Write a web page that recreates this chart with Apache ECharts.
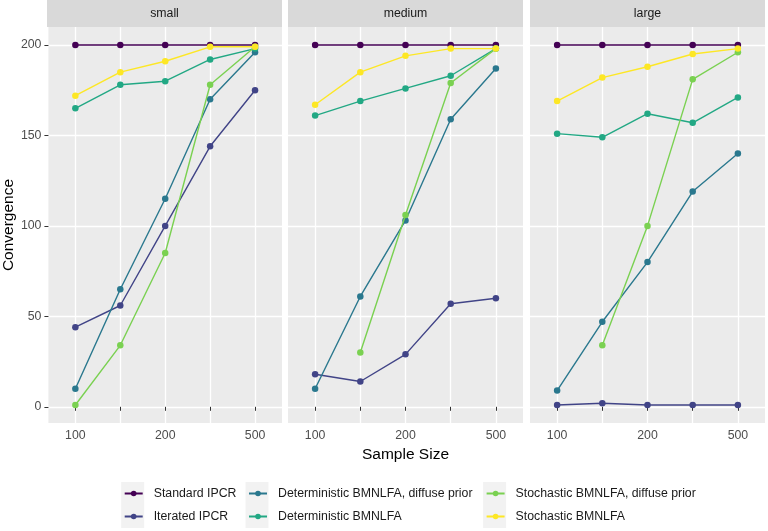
<!DOCTYPE html>
<html>
<head>
<meta charset="utf-8">
<script src="https://cdn.jsdelivr.net/npm/echarts@6/dist/echarts.min.js"></script>
<style>
html,body{margin:0;padding:0;background:#fff;}
#chart{width:768px;height:531px;}
</style>
</head>
<body>
<div id="chart"></div>
<script>
// ---- data ----
const sampleSizes = ["100", "150", "200", "300", "500"];
const tickLabels = ["100", "", "200", "", "500"];
const panels = ["small", "medium", "large"];
const methods = [
  "Standard IPCR",
  "Iterated IPCR",
  "Deterministic BMNLFA, diffuse prior",
  "Deterministic BMNLFA",
  "Stochastic BMNLFA, diffuse prior",
  "Stochastic BMNLFA"
];
const colors = ["#440154", "#414487", "#2A788E", "#22A884", "#7AD151", "#FDE725"];
const yTicks = [0, 50, 100, 150, 200];

// values per panel: [small, medium, large]
const standardIPCR = [
  [200, 200, 200, 200, 200],
  [200, 200, 200, 200, 200],
  [200, 200, 200, 200, 200]
];
const iteratedIPCR = [
  [44, 56, 100, 144, 175],
  [18, 14, 29, 57, 60],
  [1, 2, 1, 1, 1]
];
const detDiffuse = [
  [10, 65, 115, 170, 196],
  [10, 61, 103, 159, 187],
  [9, 47, 80, 119, 140]
];
const detBMNLFA = [
  [165, 178, 180, 192, 198],
  [161, 169, 176, 183, 198],
  [151, 149, 162, 157, 171]
];
const stochDiffuse = [
  [1, 34, 85, 178, 199],
  [null, 30, 106, 179, 198],
  [null, 34, 100, 181, 196]
];
const stochBMNLFA = [
  [172, 185, 191, 199, 199],
  [167, 185, 194, 198, 198],
  [169, 182, 188, 195, 198]
];
const seriesValues = [standardIPCR, iteratedIPCR, detDiffuse, detBMNLFA, stochDiffuse, stochBMNLFA];

// ---- layout ----
const FONT = "Liberation Sans, Arial, sans-serif";
const panelLeft = [47, 288, 530];
const panelWidth = 235;
const panelTop = 27;
const panelHeight = 396;
const stripHeight = 27;

const grids = [], xAxes = [], yAxes = [], series = [], graphics = [];

panelLeft.forEach((left, p) => {
  grids.push({
    left: left, top: panelTop, width: panelWidth, height: panelHeight,
    show: true, backgroundColor: "#EBEBEB", borderWidth: 0
  });
  xAxes.push({
    gridIndex: p, type: "value", min: 0.4, max: 5.6,
    axisLine: { show: false },
    axisTick: { show: true, length: 4, lineStyle: { color: "#333333", width: 1 },
      customValues: [1, 2, 3, 4, 5] },
    axisLabel: { show: true, margin: 7, color: "#4D4D4D", fontSize: 12.3, fontFamily: FONT,
      customValues: [1, 2, 3, 4, 5],
      formatter: v => tickLabels[Math.round(v) - 1] || "" },
    splitLine: { show: true, lineStyle: { color: "#FFFFFF", width: 1.3 } },
    name: p === 1 ? "Sample Size" : "",
    nameLocation: "middle", nameGap: 20,
    nameTextStyle: { color: "#000000", fontSize: 15.5, fontFamily: FONT }
  });
  yAxes.push({
    gridIndex: p, type: "value", min: -8.95, max: 209.95,
    axisLine: { show: false },
    axisTick: { show: p === 0, length: 4, lineStyle: { color: "#333333", width: 1 },
      customValues: yTicks },
    axisLabel: { show: p === 0, margin: 7, color: "#4D4D4D", fontSize: 12.3, fontFamily: FONT,
      customValues: yTicks },
    splitLine: { show: true, lineStyle: { color: "#FFFFFF", width: 1.3 } },
    name: p === 0 ? "Convergence" : "",
    nameLocation: "middle", nameGap: 27,
    nameTextStyle: { color: "#000000", fontSize: 15.5, fontFamily: FONT }
  });
  graphics.push({
    type: "rect", z: 0,
    shape: { x: left, y: 0, width: panelWidth, height: stripHeight },
    style: { fill: "#D9D9D9" }
  });
  graphics.push({
    type: "text", z: 1, x: left + panelWidth / 2, y: stripHeight / 2,
    style: { text: panels[p], align: "center", verticalAlign: "middle",
      fill: "#1A1A1A", font: "12.3px " + FONT }
  });
  methods.forEach((m, k) => {
    const vals = seriesValues[k][p];
    const pts = [];
    vals.forEach((v, i) => { if (v !== null) pts.push([i + 1, v]); });
    series.push({
      type: "line", name: m, xAxisIndex: p, yAxisIndex: p,
      data: pts, symbol: "circle", symbolSize: 6.5, showSymbol: true,
      lineStyle: { color: colors[k], width: 1.4 },
      itemStyle: { color: colors[k] },
      emphasis: { disabled: true }, animation: false, clip: false, z: 2 + k
    });
  });
});

// legend: three columns, two rows
const legendCols = [[0, 1], [2, 3], [4, 5]];
const keyCenterX = [132.7, 257, 494.6];
const keyCenterY = [493.5, 516.5];
const legends = legendCols.map((idx, c) => ({
  data: idx.map(i => methods[i]),
  orient: "vertical",
  left: keyCenterX[c] - 9,
  top: keyCenterY[0] - 7,
  padding: 0,
  itemWidth: 18, itemHeight: 7, itemGap: 9,
  selectedMode: false,
  textStyle: { color: "#1A1A1A", fontSize: 12.3, fontFamily: FONT, lineHeight: 14,
    padding: [0, 0, 0, 6] }
}));
legendCols.forEach((idx, c) => {
  keyCenterY.forEach(cy => {
    graphics.push({
      type: "rect", z: 0,
      shape: { x: keyCenterX[c] - 11.5, y: cy - 11.5, width: 23, height: 23 },
      style: { fill: "#F2F2F2" }
    });
  });
});

const chart = echarts.init(document.getElementById("chart"), null, { renderer: "canvas" });
chart.setOption({
  animation: false,
  backgroundColor: "#FFFFFF",
  grid: grids,
  xAxis: xAxes,
  yAxis: yAxes,
  legend: legends,
  graphic: graphics,
  series: series
});
</script>
</body>
</html>
